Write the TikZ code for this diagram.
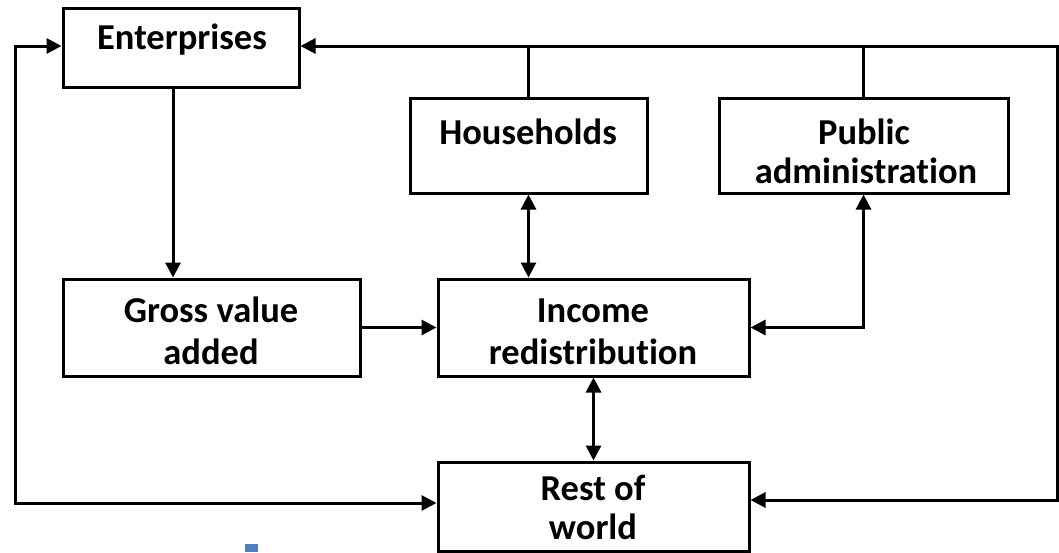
\documentclass[tikz,border=0pt]{standalone}
\usepackage{fontspec}
\setmainfont{Carlito}[Ligatures=NoCommon]
\usetikzlibrary{arrows.meta,calc}
\tikzset{
  box/.style={draw=black, line width=3pt, inner sep=0pt, fill=white},
  lbl/.style={anchor=base, inner sep=0pt, font=\fontsize{36.5}{39}\selectfont\bfseries},
  conn/.style={line width=3pt, draw=black},
  arr/.style={conn, -{Triangle[length=15pt,width=15pt]}},
  darr/.style={conn, {Triangle[length=15pt,width=15pt]}-{Triangle[length=15pt,width=15pt]}},
}
\begin{document}
\begin{tikzpicture}[x=1pt,y=-1pt]
\useasboundingbox (0,0) rectangle (1059,552);
% boxes
\node[box, minimum width=236pt, minimum height=79pt] (ent) at (181,47.5) {};
\node[box, minimum width=237pt, minimum height=95pt] (hh) at (528.5,145.5) {};
\node[box, minimum width=289pt, minimum height=95pt] (pa) at (863.5,145.5) {};
\node[box, minimum width=297pt, minimum height=97pt] (gva) at (211.5,327.5) {};
\node[box, minimum width=311pt, minimum height=97pt] (inc) at (593.5,327.5) {};
\node[box, minimum width=311pt, minimum height=89pt] (row) at (593.5,506.5) {};
% labels
\node[lbl] (tent) at (182,49) {Enterprises};
\node[lbl] (thh) at (528,144) {Households};
\node[lbl] (tpa1) at (864,144) {Public};
\node[lbl] (tpa2) at (866,183) {administration};
\node[lbl] (tgva1) at (211,322) {Gross value};
\node[lbl] (tgva2) at (211,364) {added};
\node[lbl] (tinc1) at (593,322) {Income};
\node[lbl] (tinc2) at (593,364) {redistribution};
\node[lbl] (trow1) at (593,500) {Rest of};
\node[lbl] (trow2) at (593,539) {world};
% coordinates
\coordinate (c1) at (173,0);
\coordinate (L1) at (15,46);
\coordinate (L2) at (15,503);
\coordinate (R1) at (1057,46);
\coordinate (R2) at (1057,500);
% connectors
\draw[arr] (ent.south -| c1) -- (gva.north -| c1);
\draw[arr] (gva.east) -- (inc.west);
\draw[darr] (hh.south) -- (hh.south |- inc.north);
\draw[darr] (pa.south) |- (inc.east);
\draw[darr] (inc.south) -- (row.north);
\draw[darr, line join=miter] (ent.west |- L1) -- (L1) -- (L2) -- (row.west |- L2);
\draw[darr, line join=miter] (ent.east |- R1) -- (R1) -- (R2) -- (row.east |- R2);
\draw[conn] (hh.north) -- (hh.north |- R1);
\draw[conn] (pa.north) -- (pa.north |- R1);
% stray mark
\fill[fill={rgb,255:red,79;green,129;blue,189}] (245,544) rectangle (258,552);
\end{tikzpicture}
\end{document}
